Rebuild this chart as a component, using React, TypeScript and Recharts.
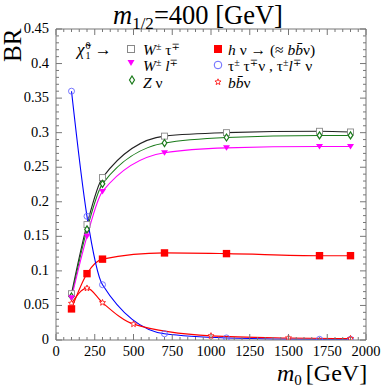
import * as React from "react";
import { LineChart, Line, XAxis, YAxis, ReferenceLine } from "recharts";

// neutralino branching ratios vs m0, m1/2 = 400 GeV
const MASS = [100, 200, 300, 700, 1100, 1700, 1900];
const MASS_BB = [100, 200, 300, 500, 1000, 1500, 1900];

const W_TAU = [0.067, 0.167, 0.235, 0.295, 0.3, 0.302, 0.301];
const Z_NU = [0.063, 0.16, 0.226, 0.285, 0.293, 0.296, 0.296];
const W_LEP = [0.061, 0.15, 0.215, 0.271, 0.278, 0.28, 0.28];
const H_NU = [0.045, 0.096, 0.117, 0.126, 0.125, 0.122, 0.122];
const TAU_TAU = [0.36, 0.179, 0.08, 0.009, 0.003, 0.001, 0.001];
const BB_NU = [0.053, 0.075, 0.054, 0.023, 0.006, 0.003, 0.002];

const X_TICKS: number[] = [];
for (let i = 0; i <= 40; i++) X_TICKS.push(i * 50);
const Y_TICKS: number[] = [];
for (let i = 0; i <= 45; i++) Y_TICKS.push(i / 100);

const PLOT_TOP = 29;
const PLOT_RIGHT = 366;
const AXIS = "#777";
const FONT = "'Liberation Serif', 'DejaVu Serif', serif";

const toRows = (xs: number[], ys: number[]) => xs.map((x, i) => ({ x, y: ys[i] }));

function XTick(props: any) {
  const { x, y, payload } = props;
  const v = payload.value as number;
  const major = v % 250 === 0;
  const len = major ? 6 : 3;
  return (
    <g>
      <line x1={x} x2={x} y1={y} y2={y - len} stroke={AXIS} />
      <line x1={x} x2={x} y1={PLOT_TOP} y2={PLOT_TOP + len} stroke={AXIS} />
      {major && (
        <text x={x} y={y + 16} textAnchor="middle" fill="#000" style={{ fontFamily: FONT, fontSize: 14.5 }}>
          {v}
        </text>
      )}
    </g>
  );
}

function YTick(props: any) {
  const { x, y, payload } = props;
  const v = payload.value as number;
  const major = Math.round(v * 100) % 5 === 0;
  const len = major ? 6 : 3;
  return (
    <g>
      <line x1={x} x2={x + len} y1={y} y2={y} stroke={AXIS} />
      <line x1={PLOT_RIGHT} x2={PLOT_RIGHT - len} y1={y} y2={y} stroke={AXIS} />
      {major && (
        <text x={x - 7} y={y + 4} textAnchor="end" fill="#000" style={{ fontFamily: FONT, fontSize: 14.5 }}>
          {String(Math.round(v * 100) / 100)}
        </text>
      )}
    </g>
  );
}

const OpenSquare = ({ cx, cy }: any) => (
  <rect x={cx - 3} y={cy - 3} width={6} height={6} fill="#fff" stroke="#888" strokeWidth={0.9} />
);
const DownTri = ({ cx, cy }: any) => (
  <path d={`M${cx - 3.5},${cy - 2.5} L${cx + 3.5},${cy - 2.5} L${cx},${cy + 3} Z`} fill="#f0f" />
);
const Diamond = ({ cx, cy }: any) => (
  <path d={`M${cx},${cy - 3.5} L${cx + 2.3},${cy} L${cx},${cy + 3.5} L${cx - 2.3},${cy} Z`} fill="#fff" stroke="#1a7a1a" strokeWidth={1.2} />
);
const FilledSquare = ({ cx, cy }: any) => (
  <rect x={cx - 3.7} y={cy - 3.7} width={7.4} height={7.4} fill="#f00" />
);
const OpenCircle = ({ cx, cy }: any) => (
  <circle cx={cx} cy={cy} r={3} fill="none" stroke="#66f" strokeWidth={0.9} />
);
const Star = ({ cx, cy }: any) => {
  const pts: string[] = [];
  for (let i = 0; i < 10; i++) {
    const r = i % 2 === 0 ? 3.2 : 1.4;
    const a = -Math.PI / 2 + (i * Math.PI) / 5;
    pts.push(`${cx + r * Math.cos(a)},${cy + r * Math.sin(a)}`);
  }
  return <polygon points={pts.join(" ")} fill="#fff" stroke="#f00" strokeWidth={0.8} />;
};

const SERIES = [
  { key: "wtau", xs: MASS, ys: W_TAU, color: "#222", dot: OpenSquare },
  { key: "znu", xs: MASS, ys: Z_NU, color: "#1a7a1a", dot: Diamond },
  { key: "wlep", xs: MASS, ys: W_LEP, color: "#f0f", dot: DownTri },
  { key: "hnu", xs: MASS, ys: H_NU, color: "#f00", dot: FilledSquare },
  { key: "tautau", xs: MASS, ys: TAU_TAU, color: "#00f", dot: OpenCircle },
  { key: "bbnu", xs: MASS_BB, ys: BB_NU, color: "#f00", dot: Star },
];

function Marker({ children }: { children: React.ReactNode }) {
  return (
    <svg width={10} height={10} style={{ position: "absolute" }}>
      {children}
    </svg>
  );
}

const legendText: React.CSSProperties = {
  position: "absolute",
  fontFamily: FONT,
  fontSize: 15.5,
  whiteSpace: "nowrap",
  lineHeight: 1,
};
const sup: React.CSSProperties = { fontSize: 10, verticalAlign: "top", lineHeight: 1 };

export default function App() {
  return (
    <div style={{ position: "absolute", left: 0, top: 0, width: 382, height: 387, background: "#fff" }}>
      <LineChart width={382} height={387} margin={{ top: PLOT_TOP, right: 16, left: 0, bottom: 0 }}>
        <XAxis
          type="number"
          dataKey="x"
          domain={[0, 2000]}
          ticks={X_TICKS}
          interval={0}
          height={47}
          tickSize={0}
          tickMargin={0}
          tickLine={false}
          stroke={AXIS}
          tick={<XTick />}
          allowDataOverflow
        />
        <YAxis
          type="number"
          domain={[0, 0.45]}
          ticks={Y_TICKS}
          interval={0}
          width={56}
          tickSize={0}
          tickMargin={0}
          tickLine={false}
          stroke={AXIS}
          tick={<YTick />}
          allowDataOverflow
        />
        <ReferenceLine y={0.45} stroke={AXIS} ifOverflow="visible" />
        <ReferenceLine x={2000} stroke={AXIS} ifOverflow="visible" />
        {SERIES.map((s) => (
          <Line
            key={s.key}
            data={toRows(s.xs, s.ys)}
            dataKey="y"
            type="monotone"
            stroke={s.color}
            strokeWidth={1.1}
            dot={(p: any) => <s.dot key={`${s.key}-${p.index}`} cx={p.cx} cy={p.cy} />}
            activeDot={false}
            isAnimationActive={false}
          />
        ))}
      </LineChart>

      {/* title */}
      <div style={{ position: "absolute", left: 113, top: 2, fontFamily: FONT, fontSize: 26.5, lineHeight: 1, whiteSpace: "nowrap" }}>
        <i>m</i>
        <span style={{ fontSize: 17, position: "relative", top: 5 }}>1/2</span>=400 [GeV]
      </div>
      {/* y label */}
      <div
        style={{
          position: "absolute",
          left: 0,
          top: 62,
          fontFamily: FONT,
          fontSize: 25,
          lineHeight: 1,
          transform: "rotate(-90deg)",
          transformOrigin: "left top",
        }}
      >
        BR
      </div>
      {/* x label */}
      <div style={{ position: "absolute", left: 277, top: 361, fontFamily: FONT, fontSize: 24, lineHeight: 1, whiteSpace: "nowrap" }}>
        <i>m</i>
        <span style={{ fontSize: 15, position: "relative", top: 4, marginRight: 4 }}>0</span>[GeV]
      </div>

      {/* legend */}
      <div style={{ ...legendText, left: 77, top: 41, fontSize: 17 }}>
        <i>χ̃</i>
        <span style={{ display: "inline-block", verticalAlign: "middle", fontSize: 10, lineHeight: 1, marginLeft: 1 }}>
          <span style={{ display: "block" }}>0</span>
          <span style={{ display: "block" }}>1</span>
        </span>{" "}
        →
      </div>
      <div style={{ position: "absolute", left: 126, top: 44 }}>
        <Marker><rect x={1.5} y={1.5} width={7} height={7} fill="#fff" stroke="#888" /></Marker>
      </div>
      <div style={{ ...legendText, left: 143, top: 42 }}>
        <i>W</i>
        <span style={sup}>±</span> τ<span style={sup}>∓</span>
      </div>
      <div style={{ position: "absolute", left: 126, top: 58 }}>
        <Marker><path d="M1.5,2 L8.5,2 L5,8 Z" fill="#f0f" /></Marker>
      </div>
      <div style={{ ...legendText, left: 143, top: 58 }}>
        <i>W</i>
        <span style={sup}>±</span> <i>l</i>
        <span style={sup}>∓</span>
      </div>
      <div style={{ position: "absolute", left: 127, top: 75 }}>
        <Marker><path d="M5,1 L7.5,5 L5,9 L2.5,5 Z" fill="#fff" stroke="#1a7a1a" strokeWidth={1.2} /></Marker>
      </div>
      <div style={{ ...legendText, left: 143, top: 75 }}>
        <i>Z</i> ν
      </div>

      <div style={{ position: "absolute", left: 213, top: 44 }}>
        <Marker><rect x={1} y={1} width={8} height={8} fill="#f00" /></Marker>
      </div>
      <div style={{ ...legendText, left: 228, top: 42 }}>
        <i>h</i> ν → (≈ <i>b</i><i>b̄</i>ν)
      </div>
      <div style={{ position: "absolute", left: 213, top: 60 }}>
        <Marker><circle cx={5} cy={5} r={3.8} fill="none" stroke="#66f" /></Marker>
      </div>
      <div style={{ ...legendText, left: 228, top: 58 }}>
        τ<span style={sup}>±</span> τ<span style={sup}>∓</span>ν , τ<span style={sup}>±</span>
        <i>l</i>
        <span style={sup}>∓</span> ν
      </div>
      <div style={{ position: "absolute", left: 213, top: 77 }}>
        <Marker><Star cx={5} cy={5} /></Marker>
      </div>
      <div style={{ ...legendText, left: 228, top: 75 }}>
        <i>b</i><i>b̄</i>ν
      </div>
    </div>
  );
}
